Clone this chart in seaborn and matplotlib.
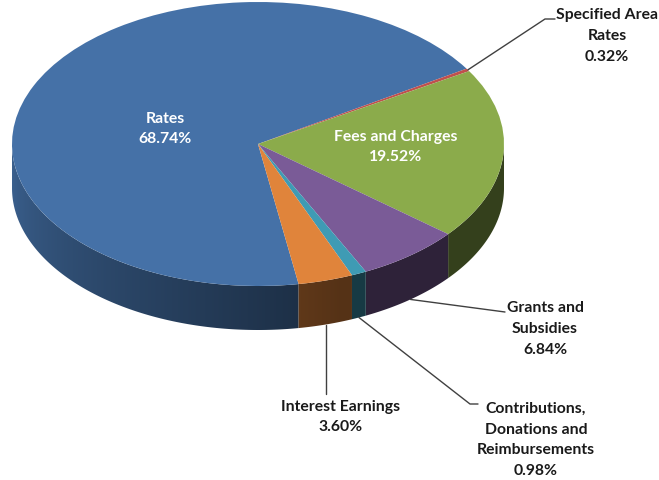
import numpy as np
import matplotlib
matplotlib.use("Agg")
import matplotlib.pyplot as plt
import matplotlib.colors as mcolors
from matplotlib.patches import Polygon
import seaborn as sns

# ---- data ----
categories = ["Rates", "Specified Area\nRates", "Fees and Charges",
              "Grants and\nSubsidies", "Contributions,\nDonations and\nReimbursements",
              "Interest Earnings"]
values = [68.74, 0.32, 19.52, 6.84, 0.98, 3.60]
pct_labels = ["68.74%", "0.32%", "19.52%", "6.84%", "0.98%", "3.60%"]
colors = ["#4571a7", "#c0504d", "#8bab4b", "#7a5b97", "#3f9bb4", "#e0843b"]

sns.set_theme(style="white")
plt.rcParams['font.family'] = ['Lato', 'DejaVu Sans']

W, H = 659, 481
fig = plt.figure(figsize=(W / 100, H / 100), dpi=100)
ax = fig.add_axes([0, 0, 1, 1])

# layout of the tilted pie (pixels)
CX, CY, RX, RY, DEPTH = 258, 145, 246, 142, 44
D = DEPTH / RY


def u(x, y):
    return (x - CX) / RX, (CY - y) / RY


start = -80.5
fr = np.array(values) / np.sum(values)
t_hi = start - 360 * np.concatenate([[0], np.cumsum(fr)[:-1]])
t_lo = t_hi - 360 * fr


def shade_x(x):
    # angle on the front half from x position
    a = 360 - np.degrees(np.arccos(np.clip(x, -1, 1)))
    k = np.clip((a - 180) / 110, 0, 1)
    return 0.86 - 0.48 * k


# side walls (front half only), gradient-filled
NG = 600
gx = np.linspace(-1, 1, NG)
for lo, hi, c in zip(t_lo, t_hi, colors):
    base = np.array(mcolors.to_rgb(c))
    ts = np.linspace(lo, hi, 400)
    front = np.sin(np.radians(ts)) < 0
    if not front.any():
        continue
    ts = ts[front]
    tt = np.radians(ts)
    xs, ys = np.cos(tt), np.sin(tt)
    pts = np.concatenate([np.c_[xs, ys], np.c_[xs[::-1], ys[::-1] - D]])
    poly = Polygon(pts, closed=True, facecolor='none', edgecolor='none', zorder=1)
    ax.add_patch(poly)
    img = np.clip(base[None, None, :] * shade_x(gx)[None, :, None], 0, 1)
    im = ax.imshow(img, extent=(-1, 1, -1 - D, 0.05), aspect='auto',
                   interpolation='bilinear', zorder=1, origin='lower')
    im.set_clip_path(poly)

# top face
ax.pie(values, colors=colors, startangle=start, counterclock=False, radius=1,
       center=(0, 0), wedgeprops=dict(linewidth=0, zorder=2), frame=True)

ax.set_xlim(-CX / RX, (W - CX) / RX)
ax.set_ylim((CY - H) / RY, CY / RY)
ax.set_aspect('auto')
ax.axis('off')

mids = np.radians(0.5 * (t_lo + t_hi))
FS = 11.3
LS = 1.62
txt_kw = dict(ha='center', va='center', fontsize=FS, fontweight='bold',
              linespacing=LS, zorder=5)
line_kw = dict(color='#404040', lw=1.0, zorder=4)

# inside labels
ax.text(*u(165, 129), f"{categories[0]}\n{pct_labels[0]}", color='white', **txt_kw)
ax.text(*u(396, 147), f"{categories[2]}\n{pct_labels[2]}", color='white', **txt_kw)


def edge_top(i):
    return np.cos(mids[i]), np.sin(mids[i])


def edge_bottom(i):
    return np.cos(mids[i]), np.sin(mids[i]) - D


# Specified Area Rates
x0, y0 = edge_top(1)
p1 = u(545, 20); p2 = u(555, 20)
ax.plot([x0, p1[0], p2[0]], [y0, p1[1], p2[1]], **line_kw)
ax.text(*u(607, 36), f"{categories[1]}\n{pct_labels[1]}", color='#1a1a1a', **txt_kw)

# Grants and Subsidies
x0, y0 = edge_bottom(3)
p1 = u(505, 313)
ax.plot([x0, p1[0]], [y0, p1[1]], **line_kw)
ax.text(*u(545, 329), f"{categories[3]}\n{pct_labels[3]}", color='#1a1a1a', **txt_kw)

# Contributions
x0, y0 = edge_bottom(4)
p1 = u(470, 405); p2 = u(478, 405)
ax.plot([x0, p1[0], p2[0]], [y0, p1[1], p2[1]], **line_kw)
ax.text(*u(536, 440), f"{categories[4]}\n{pct_labels[4]}", color='#1a1a1a', **txt_kw)

# Interest Earnings
x0, y0 = edge_bottom(5)
p1 = u(0, 395)
ax.plot([x0, x0], [y0, p1[1]], **line_kw)
ax.text(*u(341, 417), f"{categories[5]}\n{pct_labels[5]}", color='#1a1a1a', **txt_kw)

fig.savefig("out.png", dpi=100, facecolor='white')
